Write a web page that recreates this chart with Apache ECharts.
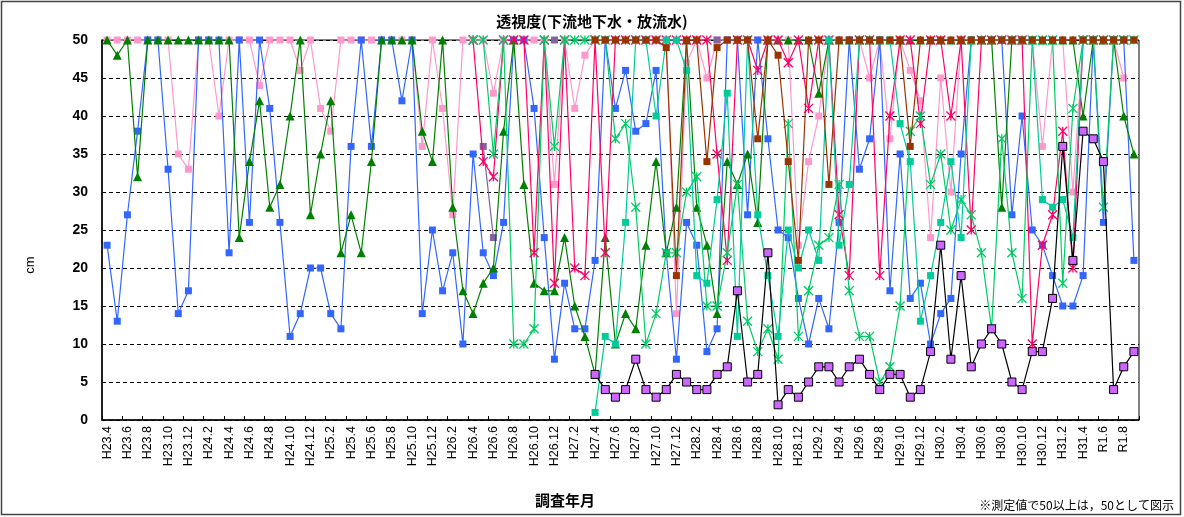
<!DOCTYPE html>
<html><head><meta charset="utf-8">
<script src="https://cdn.jsdelivr.net/npm/echarts@6/dist/echarts.min.js"></script>
<style>html,body{margin:0;padding:0;background:#fff}#c{width:1184px;height:517px}</style>
</head><body><div id="c"></div>
<script>
const categories = [
 'H23.4','H23.5','H23.6','H23.7','H23.8','H23.9','H23.10','H23.11','H23.12',
 'H24.1','H24.2','H24.3','H24.4','H24.5','H24.6','H24.7','H24.8','H24.9','H24.10','H24.11','H24.12',
 'H25.1','H25.2','H25.3','H25.4','H25.5','H25.6','H25.7','H25.8','H25.9','H25.10','H25.11','H25.12',
 'H26.1','H26.2','H26.3','H26.4','H26.5','H26.6','H26.7','H26.8','H26.9','H26.10','H26.11','H26.12',
 'H27.1','H27.2','H27.3','H27.4','H27.5','H27.6','H27.7','H27.8','H27.9','H27.10','H27.11','H27.12',
 'H28.1','H28.2','H28.3','H28.4','H28.5','H28.6','H28.7','H28.8','H28.9','H28.10','H28.11','H28.12',
 'H29.1','H29.2','H29.3','H29.4','H29.5','H29.6','H29.7','H29.8','H29.9','H29.10','H29.11','H29.12',
 'H30.1','H30.2','H30.3','H30.4','H30.5','H30.6','H30.7','H30.8','H30.9','H30.10','H30.11','H30.12',
 'H31.1','H31.2','H31.3','H31.4','R1.5','R1.6','R1.7','R1.8','R1.9'
];
const N = null;
const blue = [23,13,27,38,50,50,33,14,17,50,50,50,22,50,26,
 50,41,26,11,14,20,20,14,12,36,50,36,50,50,42,
 50,14,25,17,22,10,35,22,19,26,50,50,41,24,8,
 18,12,12,21,50,41,46,38,39,46,22,8,26,23,9,
 12,50,50,27,50,37,25,24,16,10,16,12,26,50,
 33,37,50,17,35,16,18,10,14,16,35,50,50,50,50,
 27,40,25,23,19,15,15,19,50,26,50,50,21];
const green = [50,48,50,32,50,50,50,50,50,50,50,50,50,24,34,
 42,28,31,40,50,27,35,42,22,27,22,34,50,50,50,
 50,38,34,50,28,17,14,18,20,38,50,31,18,17,17,
 24,15,11,6,24,10,14,12,23,34,22,28,50,28,23,
 14,34,31,35,26,50,50,50,50,50,43,50,50,50,
 50,50,50,50,50,50,50,50,50,50,50,50,50,50,28,
 50,50,50,50,50,50,50,40,50,50,50,40,35];
const pink = [50,50,50,50,50,50,50,35,33,50,50,40,50,50,50,
 44,50,50,50,46,50,41,38,50,50,50,50,50,50,50,
 50,36,50,41,27,50,50,50,43,50,50,50,50,50,31,
 50,41,48,50,50,50,50,50,50,50,50,14,47,50,45,
 50,50,50,50,50,50,50,50,23,34,40,50,50,50,
 50,45,50,37,50,46,42,24,45,30,50,50,50,50,50,
 50,50,50,36,50,50,30,50,50,50,50,45];
const grayPurple = [N,N,N,N,N,N,N,N,N,N,N,N,N,N,N,
 N,N,N,N,N,N,N,N,N,N,N,N,N,N,N,
 N,N,N,N,N,N,N,36,24,N,N,N,N,N,50,
 N,N,N,N,N,N,N,N,N,N,N,N,N,N,N,
 50,N,N,N,N,N,N,N,N,N,N,N,N,N,
 N,N,N,N,N,N,N,N,N,N,N,N,N,N,N,
 N,N,N,N,N,N,N,N,N,N,N,N,N];
const crimson = [N,N,N,N,N,N,N,N,N,N,N,N,N,N,N,
 N,N,N,N,N,N,N,N,N,N,N,N,N,N,N,
 N,N,N,N,N,N,50,34,32,50,50,50,22,50,18,
 50,20,19,50,22,50,50,50,50,50,50,50,50,50,50,
 35,21,50,50,46,50,50,47,50,41,50,50,27,19,
 50,50,19,40,50,50,39,50,50,40,50,25,50,50,50,
 50,50,10,23,27,38,20,50,50,50,50,50];
const springGreen = [N,N,N,N,N,N,N,N,N,N,N,N,N,N,N,
 N,N,N,N,N,N,N,N,N,N,N,N,N,N,N,
 N,N,N,N,N,N,50,50,35,50,10,10,12,50,36,
 50,50,50,50,50,37,39,28,10,14,22,22,30,32,15,
 15,22,31,13,9,12,8,39,11,17,23,24,31,17,
 11,11,5,7,15,38,40,31,35,25,29,27,22,12,37,
 22,16,50,50,50,18,41,50,50,28,50,50,50];
const teal = [N,N,N,N,N,N,N,N,N,N,N,N,N,N,N,
 N,N,N,N,N,N,N,N,N,N,N,N,N,N,N,
 N,N,N,N,N,N,N,N,N,N,N,N,N,N,N,
 N,N,N,1,11,10,26,50,50,40,50,50,46,19,18,
 29,43,11,50,27,19,11,25,20,25,21,50,23,31,
 50,50,50,50,39,34,13,19,26,34,24,50,50,50,50,
 50,50,50,29,28,29,24,50,50,50,50,50,50];
const brown = [N,N,N,N,N,N,N,N,N,N,N,N,N,N,N,
 N,N,N,N,N,N,N,N,N,N,N,N,N,N,N,
 N,N,N,N,N,N,N,N,N,N,N,N,N,N,N,
 N,N,N,50,50,50,50,50,50,50,49,19,50,50,34,
 49,50,50,50,37,50,48,34,21,50,50,31,50,50,
 50,50,50,50,50,36,50,50,50,50,50,50,50,50,50,
 50,50,50,50,50,50,50,50,50,50,50,50,50];
const violet = [N,N,N,N,N,N,N,N,N,N,N,N,N,N,N,
 N,N,N,N,N,N,N,N,N,N,N,N,N,N,N,
 N,N,N,N,N,N,N,N,N,N,N,N,N,N,N,
 N,N,N,6,4,3,4,8,4,3,4,6,5,4,4,
 6,7,17,5,6,22,2,4,3,5,7,7,5,7,
 8,6,4,6,6,3,4,9,23,8,19,7,10,12,10,
 5,4,9,9,16,36,21,38,37,34,4,7,9];
const yTicks = [0,5,10,15,20,25,30,35,40,45,50];

const star = 'path://M0,0L10,10M10,0L0,10M5,0L5,10';
function base(name, data, z) {
  return {name, type:'line', data, z, showAllSymbol:true, connectNulls:false, emphasis:{disabled:true}};
}
function sq(name, data, color, z) {
  return Object.assign(base(name, data, z), {symbol:'rect', symbolSize:7,
    lineStyle:{color, width:1.2}, itemStyle:{color}});
}
function st(name, data, color, z) {
  return Object.assign(base(name, data, z), {symbol:star, symbolSize:9,
    lineStyle:{color, width:1.2}, itemStyle:{color:'none', borderColor:color, borderWidth:1.3}});
}
const chart = echarts.init(document.getElementById('c'), null, {renderer:'canvas'});
chart.setOption({
  animation:false,
  backgroundColor:'#fff',
  title:{text:'透視度(下流地下水・放流水)', left:'center', top:9,
    textStyle:{fontFamily:'Noto Sans CJK JP', fontSize:15, fontWeight:'bold', color:'#000'}},
  grid:{left:102, right:45, top:40, bottom:97, show:true, borderColor:'#000', borderWidth:1, backgroundColor:'transparent'},
  xAxis:{type:'category', data:categories, boundaryGap:true,
    axisLine:{lineStyle:{color:'#000', width:1.5}},
    axisTick:{show:true, interval:1, inside:true, length:4, lineStyle:{color:'#000'}},
    axisLabel:{interval:1, rotate:90, color:'#000', fontSize:12.5, fontFamily:'Liberation Sans', margin:6}},
  yAxis:{type:'value', min:0, max:50, interval:5,
    axisLine:{show:true, lineStyle:{color:'#000', width:1.5}},
    axisTick:{show:false},
    axisLabel:{color:'#000', fontSize:14, fontWeight:'bold', fontFamily:'Liberation Sans', margin:14,
      formatter:v=>yTicks.includes(v)?String(v):''},
    splitLine:{show:true, lineStyle:{color:'#000', type:[4,3], width:1}}},
  graphic:[
    {type:'rect', shape:{x:1.5, y:1.5, width:1179, height:513}, style:{fill:'none', stroke:'#444', lineWidth:1.5}, silent:true, z:-1},
    {type:'text', x:30, y:265, rotation:Math.PI/2, style:{text:'cm', font:'13px "Liberation Sans"', fill:'#000', align:'center', verticalAlign:'middle'}},
    {type:'text', x:565, y:500, style:{text:'調査年月', font:'bold 15px "Noto Sans CJK JP"', fill:'#000', align:'center', verticalAlign:'middle'}},
    {type:'text', right:10, bottom:6, style:{text:'※測定値で50以上は，50として図示', font:'12px "Noto Sans CJK JP"', fill:'#000'}}
  ],
  series:[
    sq('blue', blue, '#3366FF', 2),
    Object.assign(base('green', green, 3), {symbol:'triangle', symbolSize:9,
      lineStyle:{color:'#008000', width:1.2}, itemStyle:{color:'#008000'}}),
    sq('pink', pink, '#FF99CC', 1),
    sq('grayPurple', grayPurple, '#8064A2', 2),
    st('crimson', crimson, '#FF0066', 4),
    st('springGreen', springGreen, '#00CC66', 4),
    sq('teal', teal, '#00CC99', 5),
    sq('brown', brown, '#993300', 6),
    Object.assign(base('violet', violet, 7), {symbol:'rect', symbolSize:8,
      lineStyle:{color:'#000', width:1.2}, itemStyle:{color:'#CC66FF', borderColor:'#000', borderWidth:1}})
  ]
});
</script>
</body></html>
